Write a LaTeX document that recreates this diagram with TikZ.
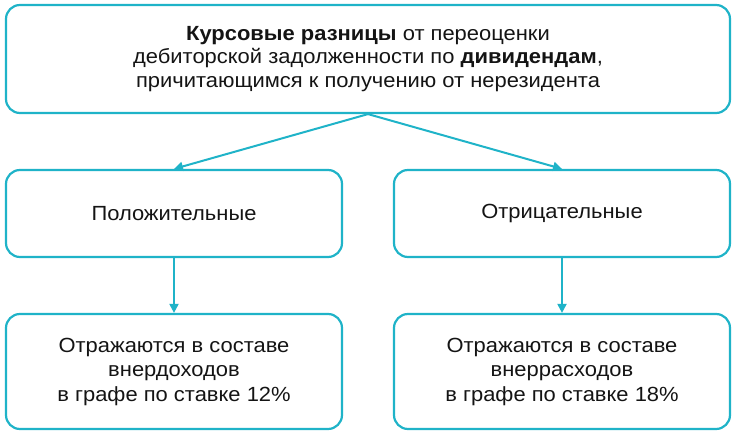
\documentclass[tikz,border=0pt]{standalone}
\usepackage{fontspec}
\setmainfont[FakeStretch=1.07]{Liberation Sans}
\usetikzlibrary{arrows.meta}
\definecolor{teal1}{HTML}{1FB3C8}
\definecolor{txt}{HTML}{141414}
\tikzset{
  box/.style={draw=teal1, line width=2.2pt, rounded corners=14pt, text=txt, align=center, inner sep=0pt},
  conn/.style={draw=teal1, line width=2pt, -{Triangle[length=9pt,width=9pt]}},
}
\begin{document}
\begin{tikzpicture}[x=1pt,y=-1pt]
\useasboundingbox (0,0) rectangle (737,435);
\node[box, minimum width=724pt, minimum height=108pt, font=\fontsize{20.5}{23.5}\selectfont] (top) at (368,59)
  {\textbf{Курсовые разницы} от переоценки\\дебиторской задолженности по \textbf{дивидендам},\\причитающимся к получению от нерезидента};
\node[box, minimum width=336pt, minimum height=87pt, font=\fontsize{20.5}{23}\selectfont] (pos) at (174,213.5) {Положительные};
\node[box, minimum width=336pt, minimum height=87pt, font=\fontsize{20.5}{23}\selectfont] (neg) at (562,213.5) {Отрицательные};
\node[box, minimum width=336pt, minimum height=115pt, font=\fontsize{20.5}{24.5}\selectfont] (inc) at (174,371.5)
  {Отражаются в составе\\внердоходов\\в графе по ставке 12\%};
\node[box, minimum width=336pt, minimum height=115pt, font=\fontsize{20.5}{24.5}\selectfont] (exp) at (562,371.5)
  {Отражаются в составе\\внеррасходов\\в графе по ставке 18\%};
\draw[conn] (top.south) -- (pos.north);
\draw[conn] (top.south) -- (neg.north);
\draw[conn] (pos.south) -- (inc.north);
\draw[conn] (neg.south) -- (exp.north);
\end{tikzpicture}
\end{document}
